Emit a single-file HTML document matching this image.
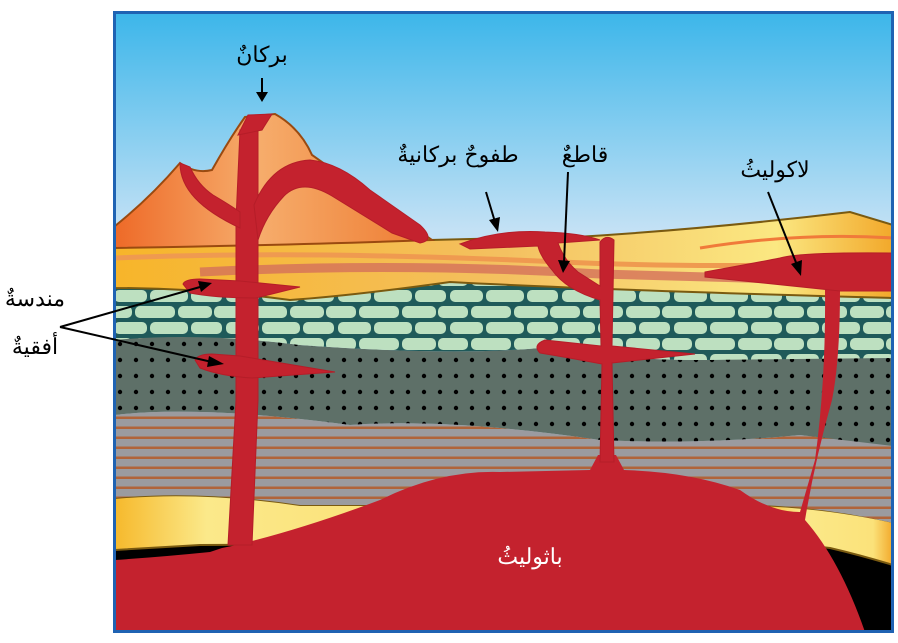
<!DOCTYPE html>
<html><head><meta charset="utf-8"><style>
html,body{margin:0;padding:0;background:#fff;}
svg{display:block;}
</style></head><body>
<svg width="898" height="643" viewBox="0 0 898 643" xmlns="http://www.w3.org/2000/svg">
<defs>
<linearGradient id="sky" x1="0" y1="0" x2="0" y2="1">
<stop offset="0" stop-color="#3cb6ea"/><stop offset="0.35" stop-color="#c3e1f5"/><stop offset="1" stop-color="#d2e9f6"/></linearGradient>
<linearGradient id="volc" x1="0" y1="0" x2="1" y2="0">
<stop offset="0" stop-color="#ee6a28"/><stop offset="0.45" stop-color="#f6ad6c"/><stop offset="1" stop-color="#ee7a30"/></linearGradient>
<linearGradient id="sed" x1="0" y1="0" x2="1" y2="0">
<stop offset="0" stop-color="#f7b52a"/><stop offset="0.5" stop-color="#f4c060"/><stop offset="0.85" stop-color="#fbe882"/><stop offset="1" stop-color="#f2a82a"/></linearGradient>
<linearGradient id="ylw" x1="0" y1="0" x2="1" y2="0">
<stop offset="0" stop-color="#f6b92c"/><stop offset="0.3" stop-color="#fbe98a"/><stop offset="0.85" stop-color="#fbe27a"/><stop offset="1" stop-color="#f2a82a"/></linearGradient>
<pattern id="dots" width="16" height="16" patternUnits="userSpaceOnUse">
<rect width="16" height="16" fill="#5e7068"/><circle cx="8" cy="8" r="2.2" fill="#000"/></pattern>
<pattern id="cob" width="112" height="32" patternUnits="userSpaceOnUse">
<rect width="112" height="32" fill="#1f5a5a"/>
<rect x="2" y="2" width="33" height="12" rx="5" fill="#bde0c0"/>
<rect x="38" y="2" width="38" height="12" rx="5" fill="#bde0c0"/>
<rect x="79" y="2" width="31" height="12" rx="5" fill="#bde0c0"/>
<rect x="-10" y="18" width="30" height="12" rx="5" fill="#bde0c0"/>
<rect x="23" y="18" width="40" height="12" rx="5" fill="#bde0c0"/>
<rect x="66" y="18" width="34" height="12" rx="5" fill="#bde0c0"/>
<rect x="102" y="18" width="30" height="12" rx="5" fill="#bde0c0"/>
</pattern>
<pattern id="str" width="40" height="10" patternUnits="userSpaceOnUse">
<rect width="40" height="10" fill="#9b9b9f"/><rect y="6.5" width="40" height="2.5" fill="#b0643a"/></pattern>
<clipPath id="fr"><rect x="115" y="13" width="777" height="618"/></clipPath>
</defs>
<g clip-path="url(#fr)">
<rect x="115" y="13" width="777" height="618" fill="url(#sky)"/>
<rect x="115" y="530" width="777" height="101" fill="#000"/>
<path d="M115 498 Q200 490 300 505 L420 505 L420 540 Q300 545 200 545 L115 550 Z" fill="url(#ylw)" stroke="#7a5a10" stroke-width="2"/>
<path d="M760 505 Q830 508 893 522 L893 565 Q860 555 830 548 L760 540 Z" fill="url(#ylw)" stroke="#7a5a10" stroke-width="2"/>
<path d="M115 415 Q200 405 350 425 Q450 418 600 440 Q700 445 800 435 L893 445 L893 523 Q830 508 760 505 L300 505 Q200 490 115 498 Z" fill="url(#str)"/>
<path d="M115 338 Q200 332 300 345 Q450 356 540 348 Q620 360 700 360 L893 356 L893 446 L800 435 Q700 445 600 440 Q450 418 350 425 Q200 405 115 415 Z" fill="url(#dots)"/>
<path d="M115 288 Q300 292 450 282 Q600 290 893 297 L893 358 L700 360 Q620 360 540 348 Q450 356 300 345 Q200 332 115 340 Z" fill="url(#cob)"/>
<path d="M115 225 L430 240 Q500 238 560 238 Q700 230 850 212 L893 225 L893 298 Q600 290 450 282 Q350 296 290 300 Q200 288 115 288 Z" fill="url(#sed)" stroke="#7a5a10" stroke-width="2"/>
<path d="M115 258 Q300 250 560 262 Q750 270 893 260" fill="none" stroke="#ef9a50" stroke-width="5"/>
<path d="M200 272 Q400 262 600 274 L893 282" fill="none" stroke="#d5705a" stroke-width="9" opacity="0.8"/>
<path d="M700 248 Q800 232 893 238" fill="none" stroke="#f07a3a" stroke-width="3"/>
<path d="M115 226 Q150 198 180 163 Q195 174 212 170 Q230 138 245 117 L275 114 Q300 128 312 155 L432 240 Q300 245 115 248 Z" fill="url(#volc)" stroke="#9a4a10" stroke-width="2"/>
<path d="M115 560 Q160 557 210 552 L222 548 L232 546 Q300 530 380 500 Q440 470 500 472 L590 470 L598 455 L616 455 L624 470 Q690 472 740 490 Q770 512 800 512 L815 460 Q826 380 825 290 L840 290 Q840 360 832 400 Q815 460 805 520 Q840 560 865 632 L115 632 Z" fill="#c4222e"/>
<g fill="#c4222e" stroke="#b51d28" stroke-width="1">
<path d="M228 545 L236 400 L236 220 L240 130 L258 130 L258 220 L258 400 L252 545 Z"/>
<path d="M238 135 L248 115 L272 114 L262 130 Z"/>
<path d="M254 205 Q272 162 310 160 Q340 163 370 190 L420 225 Q436 240 420 243 L392 233 L332 196 Q302 178 284 196 Q266 215 258 240 Z"/>
<path d="M240 228 Q210 214 195 198 Q180 182 180 163 L190 167 Q198 185 213 195 Q230 205 240 212 Z"/>
<path d="M183 284 Q185 279 200 279 L240 281 L300 287 L256 298 Q215 298 190 293 Z"/>
<path d="M195 360 Q198 354 212 354 L240 356 L335 372 L252 378 Q220 376 200 368 Z"/>
<path d="M460 244 Q500 229 545 232 Q580 233 600 240 L558 243 Q564 260 578 272 L600 286 L600 242 Q606 234 614 240 L612 346 L695 354 L612 363 L614 462 L600 462 L602 364 Q570 358 540 353 Q532 345 545 340 L601 346 L600 300 Q566 290 552 270 Q540 256 538 246 L470 249 Z"/>
<path d="M705 272 Q760 262 780 258 Q800 252 893 253 L893 291 L840 291 Q790 286 705 277 Z"/>
</g>
</g>
<rect x="114.5" y="12.5" width="778" height="619" fill="none" stroke="#1f63b3" stroke-width="3"/>
<g fill="#000" font-size="22" text-anchor="middle" style="font-family:'DejaVu Serif','Liberation Serif','Noto Serif CJK SC',serif">
<text x="262" y="62">بركانٌ</text>
<text x="458" y="162">طفوحٌ بركانيةٌ</text>
<text x="585" y="162">قاطعٌ</text>
<text x="775" y="177">لاكوليثُ</text>
<text x="35" y="306">مندسةٌ</text>
<text x="35" y="354">أفقيةٌ</text>
<text x="530" y="564" fill="#fff">باثوليثُ</text>
</g>
<g stroke="#000" stroke-width="2" fill="none">
<line x1="262" y1="78" x2="262" y2="95"/>
<line x1="486" y1="192" x2="495" y2="222"/>
<line x1="568" y1="172" x2="564" y2="262"/>
<line x1="768" y1="192" x2="797" y2="265"/>
<line x1="60" y1="327" x2="200" y2="287"/>
<line x1="60" y1="327" x2="212" y2="362"/>
</g>
<g fill="#000">
<path d="M256 92 L268 92 L262 102 Z"/>
<path d="M489 220 L500 217 L498 232 Z"/>
<path d="M558 260 L570 261 L563 273 Z"/>
<path d="M791 264 L802 260 L801 276 Z"/>
<path d="M198 281 L212 283 L201 292 Z"/>
<path d="M209 356 L224 364 L207 367 Z"/>
</g>
</svg>
</body></html>
